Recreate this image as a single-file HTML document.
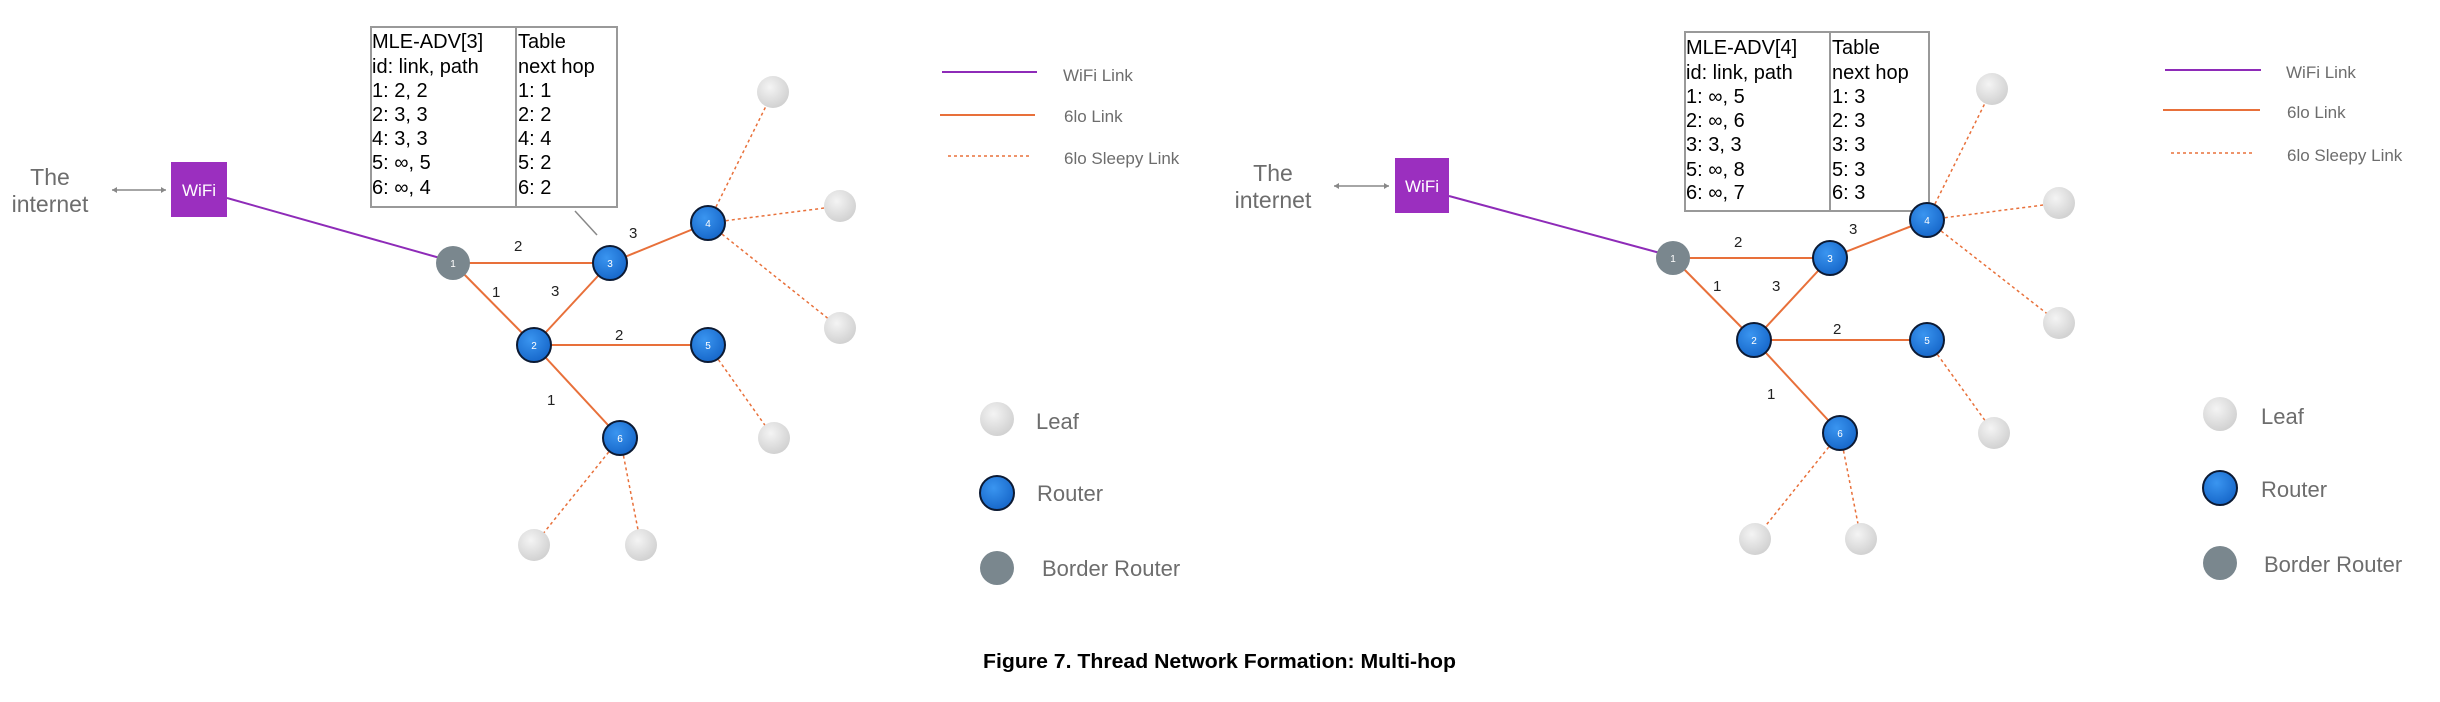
<!DOCTYPE html>
<html><head><meta charset="utf-8"><style>
html,body{margin:0;padding:0;background:#fff;}
svg{display:block;}
text{font-family:"Liberation Sans",sans-serif;}
.t{font-size:20px;fill:#000;}
.g{fill:#6d6d6d;}
.e{font-size:15px;fill:#222;}
.n{font-size:10px;fill:#fff;text-anchor:middle;}
</style></head><body>
<svg width="2440" height="702" viewBox="0 0 2440 702" xmlns="http://www.w3.org/2000/svg">
<defs>
<radialGradient id="leaf" cx="40%" cy="35%" r="70%"><stop offset="0" stop-color="#f4f4f4"/><stop offset="1" stop-color="#cfcfcf"/></radialGradient>
<radialGradient id="rt" cx="40%" cy="35%" r="70%"><stop offset="0" stop-color="#3a95f0"/><stop offset="1" stop-color="#1565c8"/></radialGradient>
</defs>

<!-- ===== LEFT DIAGRAM ===== -->
<text class="g" x="50" y="185" font-size="23" text-anchor="middle">The</text>
<text class="g" x="50" y="212" font-size="23" text-anchor="middle">internet</text>
<line x1="112" y1="190" x2="166" y2="190" stroke="#888" stroke-width="1.5"/>
<path d="M112 190 l5 -3 v6z M166 190 l-5 -3 v6z" fill="#888"/>
<rect x="171" y="162" width="56" height="55" fill="#9b2fbf"/>
<text x="199" y="196" font-size="17" fill="#fff" text-anchor="middle">WiFi</text>
<line x1="227" y1="198" x2="440" y2="258" stroke="#8e2bb8" stroke-width="2"/>

<g stroke="#e8703a" stroke-width="2">
<line x1="453" y1="263" x2="610" y2="263"/>
<line x1="453" y1="263" x2="534" y2="345"/>
<line x1="534" y1="345" x2="610" y2="263"/>
<line x1="534" y1="345" x2="708" y2="345"/>
<line x1="534" y1="345" x2="620" y2="438"/>
<line x1="610" y1="263" x2="708" y2="223"/>
</g>
<g stroke="#e8703a" stroke-width="1.5" stroke-dasharray="3,3">
<line x1="708" y1="223" x2="773" y2="92"/>
<line x1="708" y1="223" x2="840" y2="206"/>
<line x1="708" y1="223" x2="840" y2="328"/>
<line x1="708" y1="345" x2="774" y2="438"/>
<line x1="620" y1="438" x2="534" y2="545"/>
<line x1="620" y1="438" x2="641" y2="545"/>
</g>
<g fill="url(#leaf)">
<circle cx="773" cy="92" r="16"/><circle cx="840" cy="206" r="16"/><circle cx="840" cy="328" r="16"/>
<circle cx="774" cy="438" r="16"/><circle cx="534" cy="545" r="16"/><circle cx="641" cy="545" r="16"/>
</g>
<circle cx="453" cy="263" r="17" fill="#7a878e"/>
<g fill="url(#rt)" stroke="#0c1a33" stroke-width="2">
<circle cx="610" cy="263" r="17"/><circle cx="708" cy="223" r="17"/><circle cx="534" cy="345" r="17"/>
<circle cx="708" cy="345" r="17"/><circle cx="620" cy="438" r="17"/>
</g>
<text class="n" x="453" y="267">1</text><text class="n" x="610" y="267">3</text><text class="n" x="708" y="227">4</text>
<text class="n" x="534" y="349">2</text><text class="n" x="708" y="349">5</text><text class="n" x="620" y="442">6</text>
<text class="e" x="514" y="251">2</text><text class="e" x="629" y="238">3</text><text class="e" x="492" y="297">1</text>
<text class="e" x="551" y="296">3</text><text class="e" x="615" y="340">2</text><text class="e" x="547" y="405">1</text>
<line x1="575" y1="211" x2="597" y2="235" stroke="#888" stroke-width="1.5"/>
<rect x="371" y="27" width="246" height="180" fill="#fff" stroke="#999" stroke-width="2"/>
<line x1="516" y1="27" x2="516" y2="207" stroke="#999" stroke-width="2"/>
<g class="t">
<text x="372" y="48">MLE-ADV[3]</text><text x="372" y="73">id: link, path</text><text x="372" y="97">1: 2, 2</text>
<text x="372" y="121">2: 3, 3</text><text x="372" y="145">4: 3, 3</text><text x="372" y="169">5: ∞, 5</text><text x="372" y="194">6: ∞, 4</text>
<text x="518" y="48">Table</text><text x="518" y="73">next hop</text><text x="518" y="97">1: 1</text>
<text x="518" y="121">2: 2</text><text x="518" y="145">4: 4</text><text x="518" y="169">5: 2</text><text x="518" y="194">6: 2</text>
</g>

<!-- left legend -->
<line x1="942" y1="72" x2="1037" y2="72" stroke="#8e2bb8" stroke-width="2"/>
<text class="g" x="1063" y="81" font-size="17">WiFi Link</text>
<line x1="940" y1="115" x2="1035" y2="115" stroke="#e8703a" stroke-width="2"/>
<text class="g" x="1064" y="122" font-size="17">6lo Link</text>
<line x1="948" y1="156" x2="1032" y2="156" stroke="#e8703a" stroke-width="1.5" stroke-dasharray="3,3"/>
<text class="g" x="1064" y="164" font-size="17">6lo Sleepy Link</text>
<circle cx="997" cy="419" r="17" fill="url(#leaf)"/>
<text class="g" x="1036" y="429" font-size="22">Leaf</text>
<circle cx="997" cy="493" r="17" fill="url(#rt)" stroke="#0c1a33" stroke-width="2"/>
<text class="g" x="1037" y="501" font-size="22">Router</text>
<circle cx="997" cy="568" r="17" fill="#7a878e"/>
<text class="g" x="1042" y="576" font-size="22">Border Router</text>

<!-- ===== RIGHT DIAGRAM ===== -->
<text class="g" x="1273" y="181" font-size="23" text-anchor="middle">The</text>
<text class="g" x="1273" y="208" font-size="23" text-anchor="middle">internet</text>
<line x1="1334" y1="186" x2="1389" y2="186" stroke="#888" stroke-width="1.5"/>
<path d="M1334 186 l5 -3 v6z M1389 186 l-5 -3 v6z" fill="#888"/>
<rect x="1395" y="158" width="54" height="55" fill="#9b2fbf"/>
<text x="1422" y="192" font-size="17" fill="#fff" text-anchor="middle">WiFi</text>
<line x1="1449" y1="196" x2="1660" y2="253" stroke="#8e2bb8" stroke-width="2"/>

<rect x="1685" y="32" width="244" height="179" fill="#fff" stroke="#999" stroke-width="2"/>
<line x1="1830" y1="32" x2="1830" y2="211" stroke="#999" stroke-width="2"/>
<g class="t">
<text x="1686" y="54">MLE-ADV[4]</text><text x="1686" y="79">id: link, path</text><text x="1686" y="103">1: ∞, 5</text>
<text x="1686" y="127">2: ∞, 6</text><text x="1686" y="151">3: 3, 3</text><text x="1686" y="176">5: ∞, 8</text><text x="1686" y="199">6: ∞, 7</text>
<text x="1832" y="54">Table</text><text x="1832" y="79">next hop</text><text x="1832" y="103">1: 3</text>
<text x="1832" y="127">2: 3</text><text x="1832" y="151">3: 3</text><text x="1832" y="176">5: 3</text><text x="1832" y="199">6: 3</text>
</g>

<g stroke="#e8703a" stroke-width="2">
<line x1="1673" y1="258" x2="1830" y2="258"/>
<line x1="1673" y1="258" x2="1754" y2="340"/>
<line x1="1754" y1="340" x2="1830" y2="258"/>
<line x1="1754" y1="340" x2="1927" y2="340"/>
<line x1="1754" y1="340" x2="1840" y2="433"/>
<line x1="1830" y1="258" x2="1927" y2="220"/>
</g>
<g stroke="#e8703a" stroke-width="1.5" stroke-dasharray="3,3">
<line x1="1927" y1="220" x2="1992" y2="89"/>
<line x1="1927" y1="220" x2="2059" y2="203"/>
<line x1="1927" y1="220" x2="2059" y2="323"/>
<line x1="1927" y1="340" x2="1994" y2="433"/>
<line x1="1840" y1="433" x2="1755" y2="539"/>
<line x1="1840" y1="433" x2="1861" y2="539"/>
</g>
<g fill="url(#leaf)">
<circle cx="1992" cy="89" r="16"/><circle cx="2059" cy="203" r="16"/><circle cx="2059" cy="323" r="16"/>
<circle cx="1994" cy="433" r="16"/><circle cx="1755" cy="539" r="16"/><circle cx="1861" cy="539" r="16"/>
</g>
<circle cx="1673" cy="258" r="17" fill="#7a878e"/>
<g fill="url(#rt)" stroke="#0c1a33" stroke-width="2">
<circle cx="1830" cy="258" r="17"/><circle cx="1927" cy="220" r="17"/><circle cx="1754" cy="340" r="17"/>
<circle cx="1927" cy="340" r="17"/><circle cx="1840" cy="433" r="17"/>
</g>
<text class="n" x="1673" y="262">1</text><text class="n" x="1830" y="262">3</text><text class="n" x="1927" y="224">4</text>
<text class="n" x="1754" y="344">2</text><text class="n" x="1927" y="344">5</text><text class="n" x="1840" y="437">6</text>
<text class="e" x="1734" y="247">2</text><text class="e" x="1849" y="234">3</text><text class="e" x="1713" y="291">1</text>
<text class="e" x="1772" y="291">3</text><text class="e" x="1833" y="334">2</text><text class="e" x="1767" y="399">1</text>

<!-- right legend -->
<line x1="2165" y1="70" x2="2261" y2="70" stroke="#8e2bb8" stroke-width="2"/>
<text class="g" x="2286" y="78" font-size="17">WiFi Link</text>
<line x1="2163" y1="110" x2="2260" y2="110" stroke="#e8703a" stroke-width="2"/>
<text class="g" x="2287" y="118" font-size="17">6lo Link</text>
<line x1="2171" y1="153" x2="2255" y2="153" stroke="#e8703a" stroke-width="1.5" stroke-dasharray="3,3"/>
<text class="g" x="2287" y="161" font-size="17">6lo Sleepy Link</text>
<circle cx="2220" cy="414" r="17" fill="url(#leaf)"/>
<text class="g" x="2261" y="424" font-size="22">Leaf</text>
<circle cx="2220" cy="488" r="17" fill="url(#rt)" stroke="#0c1a33" stroke-width="2"/>
<text class="g" x="2261" y="497" font-size="22">Router</text>
<circle cx="2220" cy="563" r="17" fill="#7a878e"/>
<text class="g" x="2264" y="572" font-size="22">Border Router</text>

<text x="983" y="668" font-size="20" font-weight="bold" fill="#000" textLength="473" lengthAdjust="spacingAndGlyphs">Figure 7. Thread Network Formation: Multi-hop</text>
</svg>
</body></html>
